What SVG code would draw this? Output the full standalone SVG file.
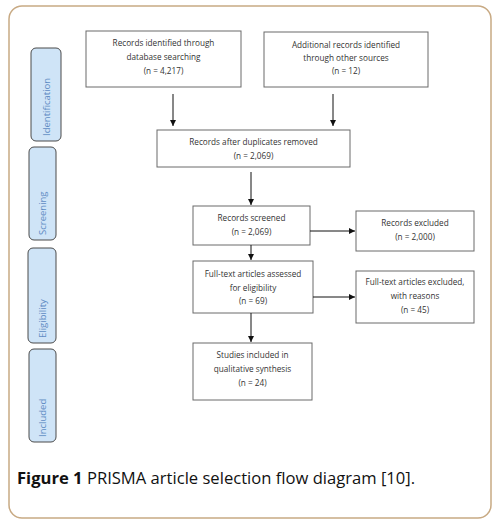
<svg xmlns="http://www.w3.org/2000/svg" width="500" height="526" viewBox="0 0 500 526">
<style>
.frame{fill:#fff;stroke:#c8aa84;stroke-width:1.5}
.box{fill:#fff;stroke:#6a6a6a;stroke-width:1}
.side{fill:#cfe4f7;stroke:#4a4a4a;stroke-width:1}
.t{font-family:"Open Sans","Noto Sans",sans-serif;font-size:8.2px;fill:#333;text-anchor:middle}
.s{font-family:"Open Sans","Noto Sans",sans-serif;font-size:9.5px;fill:#5f8cc4;text-anchor:start}
.cap{font-family:"Open Sans","Noto Sans",sans-serif;font-size:16.6px;fill:#111}
.c{stroke:#111;stroke-width:1;fill:none;marker-end:url(#ah)}
</style>
<defs>
<marker id="ah" viewBox="0 0 8 8" refX="8" refY="4" markerWidth="6" markerHeight="6" markerUnits="userSpaceOnUse" orient="auto">
<path d="M0,0 L8,4 L0,8 z" fill="#111"/>
</marker>
</defs>
<rect class="frame" x="9" y="6" width="482" height="512" rx="13"/>
<g id="side-identification"><rect class="side" x="31" y="48" width="30" height="93" rx="5"/><text class="s" transform="translate(49.5,136) rotate(-90)">Identification</text></g>
<g id="side-screening"><rect class="side" x="29" y="147" width="27" height="93" rx="5"/><text class="s" transform="translate(46,235) rotate(-90)">Screening</text></g>
<g id="side-eligibility"><rect class="side" x="28" y="248" width="28" height="95" rx="5"/><text class="s" transform="translate(45.5,338) rotate(-90)">Eligibility</text></g>
<g id="side-included"><rect class="side" x="29" y="349" width="27" height="93" rx="5"/><text class="s" transform="translate(46,437) rotate(-90)">Included</text></g>
<g id="n1"><rect class="box" x="86" y="31" width="155" height="56"/><text class="t" x="163.5" y="46">Records identified through</text><text class="t" x="163.5" y="60">database searching</text><text class="t" x="163.5" y="74">(n = 4,217)</text></g>
<g id="n2"><rect class="box" x="264" y="32" width="164" height="55"/><text class="t" x="346" y="48">Additional records identified</text><text class="t" x="346" y="61">through other sources</text><text class="t" x="346" y="74">(n = 12)</text></g>
<g id="n3"><rect class="box" x="157" y="130" width="193" height="37"/><text class="t" x="253.5" y="145">Records after duplicates removed</text><text class="t" x="253.5" y="159">(n = 2,069)</text></g>
<g id="n4"><rect class="box" x="193" y="206" width="117" height="39"/><text class="t" x="251.5" y="221">Records screened</text><text class="t" x="251.5" y="235">(n = 2,069)</text></g>
<g id="n5"><rect class="box" x="356" y="211" width="118" height="40"/><text class="t" x="415" y="226">Records excluded</text><text class="t" x="415" y="240">(n = 2,000)</text></g>
<g id="n6"><rect class="box" x="193" y="261" width="120" height="52"/><text class="t" x="253" y="277">Full-text articles assessed</text><text class="t" x="253" y="291">for eligibility</text><text class="t" x="253" y="304">(n = 69)</text></g>
<g id="n7"><rect class="box" x="356" y="271" width="118" height="52"/><text class="t" x="415" y="285">Full-text articles excluded,</text><text class="t" x="415" y="299">with reasons</text><text class="t" x="415" y="313">(n = 45)</text></g>
<g id="n8"><rect class="box" x="193" y="343" width="119" height="57"/><text class="t" x="252.5" y="358">Studies included in</text><text class="t" x="252.5" y="372">qualitative synthesis</text><text class="t" x="252.5" y="386">(n = 24)</text></g>
<g id="connectors">
<line class="c" x1="173" y1="94" x2="173" y2="126"/>
<line class="c" x1="333" y1="94" x2="333" y2="126"/>
<line class="c" x1="251" y1="172" x2="251" y2="205"/>
<line class="c" x1="251" y1="245" x2="251" y2="260"/>
<line class="c" x1="251" y1="313" x2="251" y2="342"/>
<line class="c" x1="310" y1="231" x2="355" y2="231"/>
<line class="c" x1="313" y1="297" x2="355" y2="297"/>
</g>
<text class="cap" x="17" y="484"><tspan font-weight="bold">Figure 1</tspan> PRISMA article selection flow diagram [10].</text>
</svg>
